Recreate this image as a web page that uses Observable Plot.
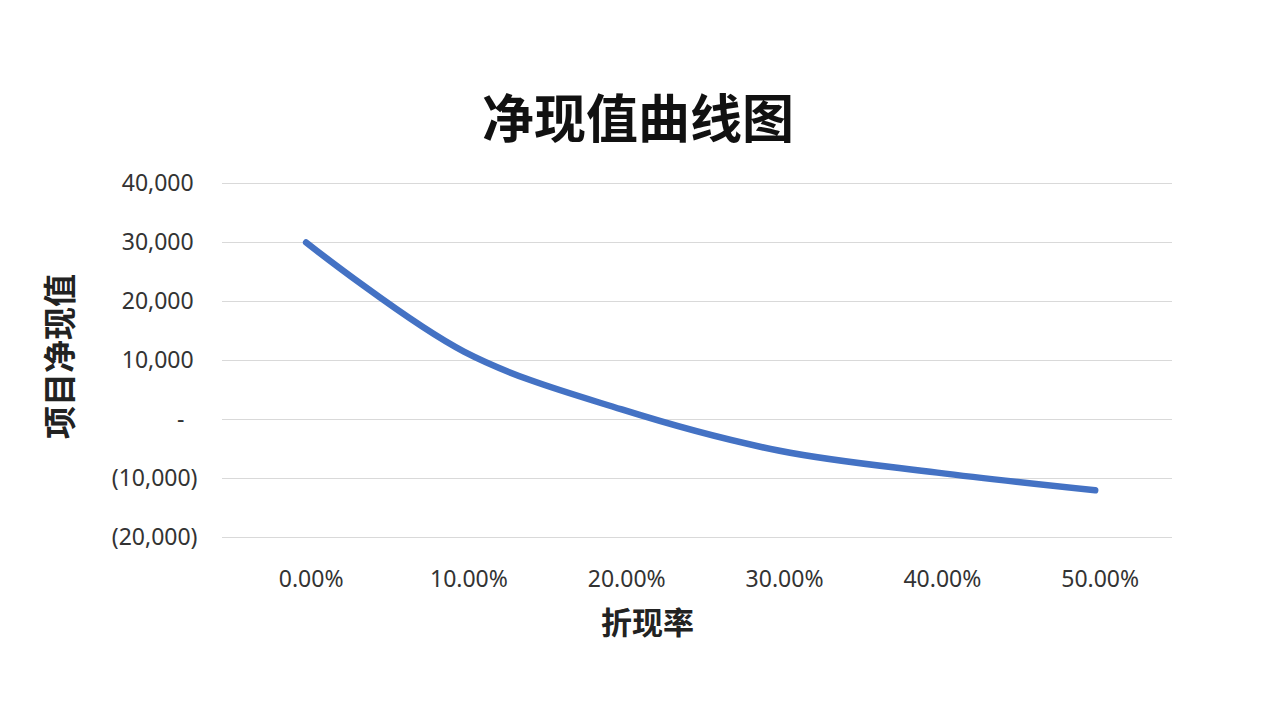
<!DOCTYPE html>
<html>
<head>
<meta charset="utf-8">
<script src="https://cdn.jsdelivr.net/npm/d3@7"></script>
<script src="https://cdn.jsdelivr.net/npm/@observablehq/plot@0.6"></script>
<style>
  html, body { margin: 0; padding: 0; background: #ffffff; }
  body { width: 1280px; height: 720px; overflow: hidden; }
  #head { position: relative; height: 150px; }
  #title {
    position: absolute; left: 0; width: 1276px; top: 90px;
    text-align: center; line-height: 52px;
    font-family: "Noto Sans CJK SC", sans-serif; font-weight: bold; font-size: 52px; color: #111;
  }
</style>
</head>
<body>
<div id="head"><div id="title"></div></div>
<div id="chart"></div>
<script>
const chartTitle = "净现值曲线图";
const xLabel = "折现率";
const yLabel = "项目净现值";
const rates = [0, 0.1, 0.2, 0.3, 0.4, 0.5];
const npv = [30000, 11500, 1700, -5300, -9000, -12000];
const xTicks = [0, 0.1, 0.2, 0.3, 0.4, 0.5];
const yTicks = [-20000, -10000, 0, 10000, 20000, 30000, 40000];

document.getElementById("title").textContent = chartTitle;

const data = rates.map((r, i) => ({rate: r, npv: npv[i]}));
const comma = d3.format(",");
const fmtY = v => v === 0 ? "-\u2007" : v < 0 ? "(" + comma(-v) + ")" : comma(v) + "\u2009";
const cjk = '"Noto Sans CJK SC", sans-serif';

const chart = Plot.plot({
  width: 1280,
  height: 570,
  marginTop: 33,
  marginBottom: 183,
  marginLeft: 222,
  marginRight: 108,
  style: {fontFamily: '"Noto Sans", "Noto Sans CJK SC", sans-serif', fontSize: "23px", color: "#333333", background: "white"},
  x: {domain: [-0.053, 0.549]},
  y: {domain: [-20000, 40000]},
  marks: [
    Plot.gridY(yTicks, {stroke: "#d9d9d9", strokeOpacity: 1, strokeWidth: 1}),
    Plot.axisY(yTicks, {tickSize: 0, tickPadding: 25, tickFormat: fmtY, label: null}),
    Plot.axisX(xTicks, {tickSize: 0, tickPadding: 33, dx: 5, tickFormat: d3.format(".2%"), label: null}),
    Plot.text([xLabel], {frameAnchor: "bottom", dx: -50, dy: 87, lineAnchor: "middle", fontFamily: cjk, fontWeight: "bold", fontSize: 31, fill: "#222"}),
    Plot.text([yLabel], {frameAnchor: "left", rotate: -90, dx: -161, dy: -4, lineAnchor: "middle", textAnchor: "middle", fontFamily: cjk, fontWeight: "bold", fontSize: 33, fill: "#222"}),
    Plot.line(data, {x: "rate", y: "npv", stroke: "#4472C4", strokeWidth: 6.5, curve: "catmull-rom", strokeLinecap: "round", strokeLinejoin: "round"})
  ]
});
document.getElementById("chart").appendChild(chart);
</script>
</body>
</html>
